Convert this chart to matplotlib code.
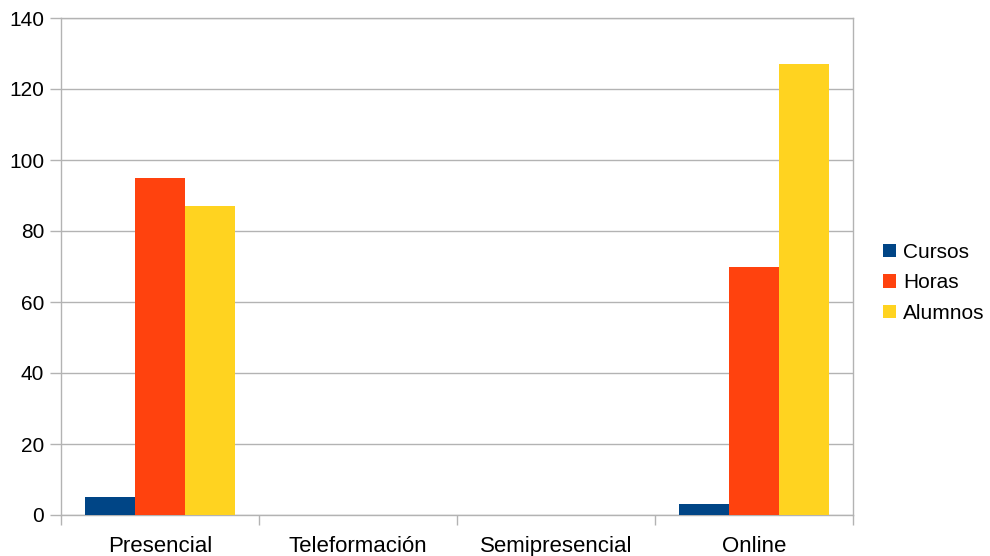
import numpy as np
import matplotlib.pyplot as plt

plt.rcParams['font.family'] = ['Liberation Sans', 'DejaVu Sans']

categorias = ['Presencial', 'Teleformación', 'Semipresencial', 'Online']
cursos = [5, 0, 0, 3]
horas = [95, 0, 0, 70]
alumnos = [87, 0, 0, 127]

series = [('Cursos', cursos, '#004586'),
          ('Horas', horas, '#ff420e'),
          ('Alumnos', alumnos, '#ffd320')]

fig = plt.figure(figsize=(9.9, 5.56), dpi=100)
ax = fig.add_axes([61 / 990, 41 / 556, 792 / 990, 497 / 556])

x = np.arange(len(categorias))
w = 0.2525
for i, (nombre, vals, color) in enumerate(series):
    ax.bar(x + (i - 1) * w, vals, w, color=color, label=nombre, zorder=3)

ax.set_xlim(-0.5, len(categorias) - 0.5)
ax.set_ylim(0, 140)
ax.set_yticks(range(0, 141, 20))
ax.set_xticks(x)
ax.set_xticklabels(categorias)
ax.set_xticks(np.arange(-0.5, len(categorias), 1), minor=True)
ax.tick_params(axis='x', which='major', length=0, pad=15, labelsize=16)
ax.tick_params(axis='x', which='minor', length=7, color='#b3b3b3', width=1)
ax.tick_params(axis='y', length=8, color='#b3b3b3', width=1, labelsize=15, pad=4)
ax.grid(axis='y', color='#b3b3b3', linewidth=1, zorder=0)
for s in ax.spines.values():
    s.set_color('#b3b3b3')
    s.set_linewidth(1)

ax.legend(loc='center left', bbox_to_anchor=(875 / 990, 273 / 556),
          bbox_transform=fig.transFigure, frameon=False, borderaxespad=0,
          fontsize=15, handlelength=0.62, handleheight=0.62, handletextpad=0.33,
          labelspacing=0.55)

fig.savefig('out.png', dpi=100)
